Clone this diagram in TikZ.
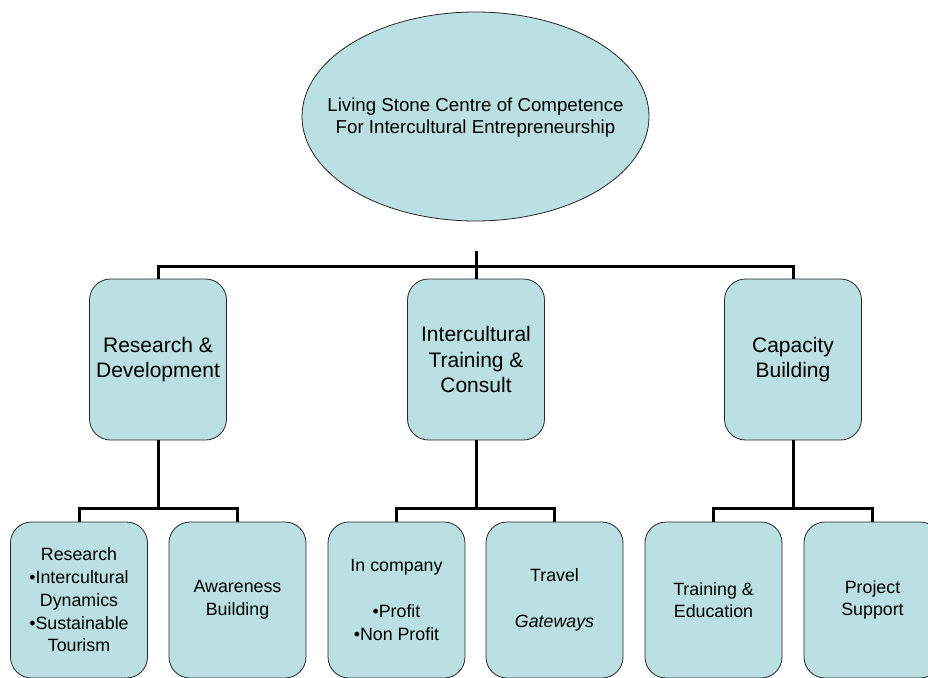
\documentclass[tikz,border=0pt]{standalone}
\usepackage{fontspec}
\setmainfont{Liberation Sans}
\usetikzlibrary{shapes.geometric}
\definecolor{boxfill}{RGB}{186,224,227}
\tikzset{
  unit/.style={draw=black!85,line width=0.8pt,fill=boxfill,align=center,inner sep=2pt},
  centre/.style={unit,ellipse,minimum width=347pt,minimum height=209pt,inner sep=0pt},
  centretext/.style={align=center,font=\fontsize{18.7}{21.7}\selectfont},
  branch/.style={unit,rectangle,rounded corners=21pt,minimum width=137pt,minimum height=161pt,
                 font=\fontsize{21}{25.5}\selectfont},
  leaf/.style={unit,rectangle,rounded corners=21pt,minimum width=137pt,minimum height=156pt,
               font=\fontsize{17.8}{22.7}\selectfont},
  conn/.style={draw,line width=3pt},
}

\begin{document}
\begin{tikzpicture}[x=1pt,y=-1pt]
  \useasboundingbox (0,0) rectangle (928,677);
  \clip (0,0) rectangle (928,677);
  % ---- top ----
  \node[centre] (lsc) at (475.5,116.5) {};
  \node[centretext] (lsctext) at (475.5,118) {Living Stone Centre of Competence\\For Intercultural Entrepreneurship};
  \coordinate (stub) at (476,251);
  % ---- branches ----
  \node[branch] (rd) at (158,359.5) {Research \&\\Development};
  \node[branch] (itc) at (476,359.5) {Intercultural\\Training \&\\Consult};
  \node[branch] (cb) at (793,359.5) {Capacity\\Building};
  % ---- leaves ----
  \node[leaf] (res) at (79,600) {Research\\•Intercultural\\Dynamics\\•Sustainable\\Tourism};
  \node[leaf] (aw) at (237.5,600) {Awareness\\Building};
  \node[leaf] (inco) at (396.5,600) {In company\\[22.7pt]•Profit\\•Non Profit};
  \node[leaf] (trav) at (554.5,600) {Travel\\[22.7pt]\textit{Gateways}};
  \node[leaf] (tred) at (713.5,600) {Training \&\\Education};
  \node[leaf] (ps) at (872.5,600) {Project\\Support};
  % ---- connectors ----
  \draw[conn] (stub) -- (itc.north);
  \draw[conn] (rd.north) -- ++(0,-12) -| (cb.north);
  \draw[conn] (rd.south) -- ++(0,69);
  \draw[conn] (itc.south) -- ++(0,69);
  \draw[conn] (cb.south) -- ++(0,69);
  \draw[conn] (res.north) -- ++(0,-13) -| (aw.north);
  \draw[conn] (inco.north) -- ++(0,-13) -| (trav.north);
  \draw[conn] (tred.north) -- ++(0,-13) -| (ps.north);
\end{tikzpicture}
\end{document}
